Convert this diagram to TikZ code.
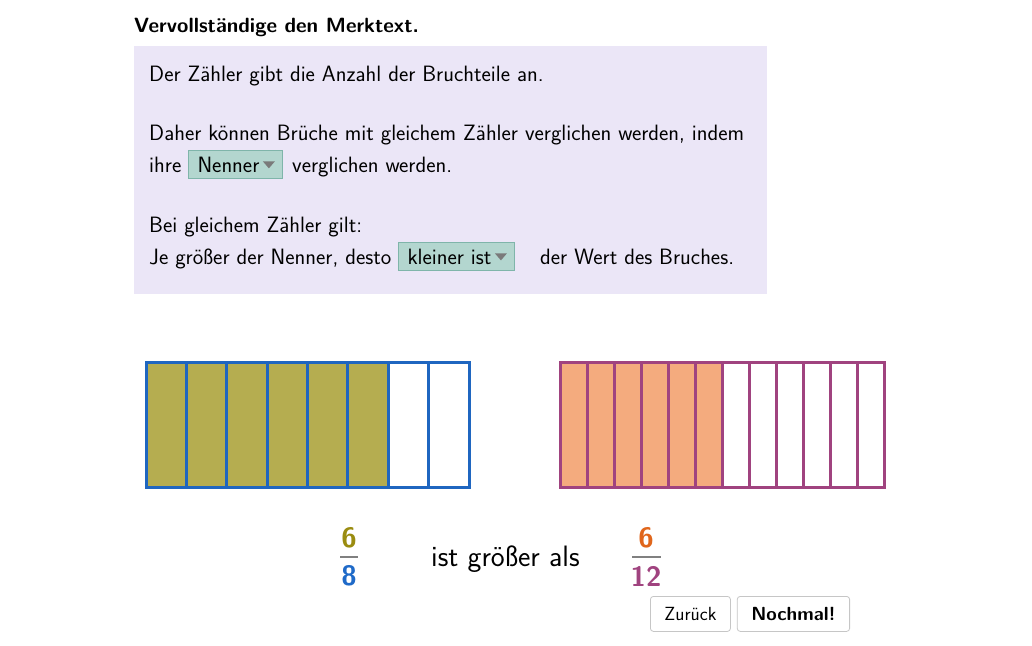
\documentclass[tikz,border=0pt]{standalone}
\usepackage{fontspec}
\usetikzlibrary{positioning}
\definecolor{boxbg}{HTML}{EBE6F7}
\definecolor{menubg}{HTML}{B3D6CF}
\definecolor{menuline}{HTML}{7FB5AA}
\definecolor{menuarrow}{HTML}{7A7A7A}
\definecolor{barblue}{HTML}{1F66C0}
\definecolor{barolive}{HTML}{B5AD50}
\definecolor{barpurple}{HTML}{A0437F}
\definecolor{barsalmon}{HTML}{F4AB7E}
\definecolor{numolive}{HTML}{9A8C10}
\definecolor{numblue}{HTML}{1F6AC8}
\definecolor{numorange}{HTML}{E0661C}
\tikzset{
  txt/.style={anchor=base west,inner sep=0pt,font=\sffamily\fontsize{22.2}{26}\selectfont},
  menu/.style={txt,fill=menubg,draw=menuline,line width=1pt,inner xsep=9pt,minimum height=28pt},
  arrowtri/.style={fill=menuarrow},
  num/.style={inner sep=0pt,font=\sffamily\bfseries\fontsize{28}{30}\selectfont},
  button/.style={draw=gray!45,rounded corners=3pt,fill=white,line width=0.8pt,
    minimum height=35pt,inner xsep=14pt,font=\sffamily\fontsize{19}{22}\selectfont},
}
\begin{document}
\begin{tikzpicture}[x=1pt,y=-1pt]
    \useasboundingbox (0,0) rectangle (1032,645);
    %% Task and text box
    \node[txt,font=\sffamily\bfseries\fontsize{20.6}{24}\selectfont] (title) at (134,32) {Vervollständige den Merktext.};
    \fill[boxbg] (134,46) rectangle (767,294);
    \node[txt] (line1) at (149,81) {Der Zähler gibt die Anzahl der Bruchteile an.};
    \node[txt] (line2) at (149,140) {Daher können Brüche mit gleichem Zähler verglichen werden, indem};
    \node[txt] (line3) at (149,172) {ihre};
    \node[menu] (nenner) at (188,172) {Nenner\kern14pt};
    \node[txt] (line3b) at (292,172) {verglichen werden.};
    \node[txt] (line4) at (149,232) {Bei gleichem Zähler gilt:};
    \node[txt] (line5) at (149,264) {Je größer der Nenner, desto};
    \node[menu] (kleiner) at (398,264) {kleiner ist\kern14pt};
    \node[txt] (line5b) at (540,264) {der Wert des Bruches.};
    %% Menu arrows
    \foreach \m in {nenner,kleiner}
        \fill[arrowtri] ([xshift=-20pt,yshift=3pt]\m.east) -- ++(12,0) -- ++(-6,7) -- cycle;
    %% Bar 6/8
    \foreach \i in {0,...,5}
        \fill[barolive] (146+\i*40.375,362) rectangle ++(40.375,125);
    \foreach \i in {1,...,7}
        \draw[barblue,line width=3pt] (146+\i*40.375,362) -- ++(0,125);
    \draw[barblue,line width=3pt] (146,362) rectangle (469,487);
    %% Bar 6/12
    \foreach \i in {0,...,5}
        \fill[barsalmon] (560+\i*27,362) rectangle ++(27,125);
    \foreach \i in {1,...,11}
        \draw[barpurple,line width=3pt] (560+\i*27,362) -- ++(0,125);
    \draw[barpurple,line width=3pt] (560,362) rectangle (884,487);
    %% Fractions
    \node[num,text=numolive] (za) at (349,538) {6};
    \node[num,text=numblue] (na) at (349,576) {8};
    \draw[gray,line width=2pt] (340,557) -- (358,557);
    \node[txt,font=\sffamily\fontsize{29.5}{32}\selectfont] (compare) at (431,566) {ist größer als};
    \node[num,text=numorange] (zb) at (646,538) {6};
    \node[num,text=barpurple] (nb) at (646,576) {12};
    \draw[gray,line width=2pt] (632,557) -- (661,557);
    %% Buttons
    \node[button,anchor=north west] (zurueck) at (650,596) {Zurück};
    \node[button,right=6pt of zurueck,font=\sffamily\bfseries\fontsize{19}{22}\selectfont] (nochmal) {Nochmal!};
\end{tikzpicture}
\end{document}
